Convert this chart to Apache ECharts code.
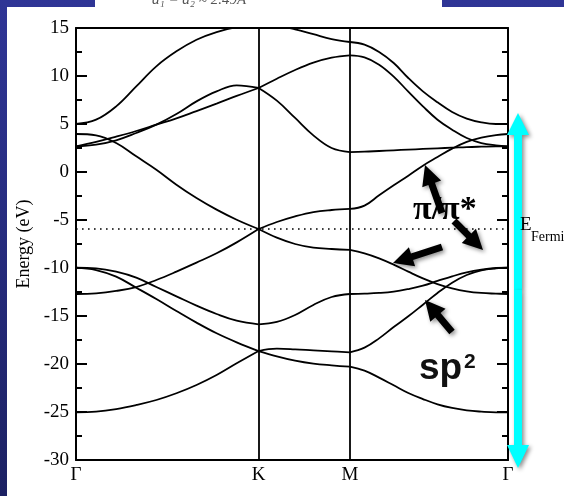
<!DOCTYPE html>
<html>
<head>
<meta charset="utf-8">
<script src="https://cdn.jsdelivr.net/npm/echarts@6/dist/echarts.min.js"></script>
<style>
  body { margin: 0; }
  #wrap { position: relative; width: 564px; height: 496px; background: linear-gradient(#2f3596, #1c2163); overflow: hidden; }
  .paper { position: absolute; background: #fff; }
</style>
</head>
<body>
<div id="wrap">
  <div class="paper" style="left:7px;top:7px;right:0;bottom:0"></div>
  <div class="paper" style="left:95px;top:0;width:347px;height:7px"></div>
  <div id="main" style="position:absolute;left:0;top:0;width:564px;height:496px"></div>
</div>
<script>
// k-path: Γ(0) -> K(2) -> M(3) -> Γ(2+√3)
var kPath = [0, 0.22, 0.44, 0.66, 0.88, 1.1, 1.32, 1.54, 1.76, 2.0,
    2.2, 2.4, 2.6, 2.8, 3.0,
    3.16, 3.32, 3.48, 3.64, 3.8, 3.96, 4.12, 4.28, 4.44, 4.6, 4.732];
var kTicks = [0, 2, 3, 4.732];
var kLabels = ['Γ', 'K', 'M', 'Γ'];
var eFermi = -5.94;

// energies (eV) on kPath
var bandA = [5.0, 5.45, 6.84, 8.92, 11.01, 12.57, 13.78, 14.58, 15.08, 15.4,
    15.25, 14.85, 14.35, 13.85, 13.54,
    13.26, 12.5, 11.35, 9.79, 8.4, 7.26, 6.25, 5.56, 5.17, 5.0, 5.0];
var bandB = [2.67, 3.13, 3.68, 4.27, 4.93, 5.59, 6.35, 7.12, 7.92, 8.75,
    9.72, 10.63, 11.39, 11.91, 12.15,
    11.94, 11.18, 9.93, 8.37, 6.84, 5.45, 4.41, 3.54, 3.02, 2.78, 2.67];
var bandC = [2.67, 2.85, 3.30, 4.06, 4.93, 6.04, 7.36, 8.40, 9.03, 8.75,
    7.43, 5.63, 3.82, 2.5, 2.08,
    2.12, 2.19, 2.26, 2.33, 2.40, 2.47, 2.53, 2.60, 2.64, 2.67, 2.67];
var piStar = [3.96, 3.82, 3.02, 1.63, 0.24, -1.32, -2.71, -3.92, -4.97, -5.94,
    -5.21, -4.62, -4.17, -3.96, -3.85,
    -3.5, -2.43, -1.39, -0.38, 0.66, 1.56, 2.43, 3.13, 3.58, 3.85, 3.96];
var pi = [-12.71, -12.64, -12.39, -11.98, -11.25, -10.38, -9.44, -8.47, -7.33, -5.94,
    -6.84, -7.5, -7.88, -8.02, -8.12,
    -8.47, -8.99, -9.65, -10.38, -11.08, -11.67, -12.12, -12.43, -12.6, -12.67, -12.71];
var sigma1 = [-9.96, -10.03, -10.38, -11.0, -11.98, -12.95, -13.92, -14.79, -15.49, -15.87,
    -15.62, -14.9, -13.85, -13.02, -12.71,
    -12.67, -12.6, -12.46, -12.19, -11.84, -11.35, -10.87, -10.45, -10.17, -10.0, -9.96];
var sigma2 = [-9.96, -10.21, -10.9, -12.05, -13.23, -14.48, -15.69, -16.8, -17.74, -18.65,
    -18.4, -18.47, -18.58, -18.68, -18.78,
    -18.3, -17.33, -16.15, -15.03, -13.82, -12.6, -11.53, -10.73, -10.24, -10.03, -9.96];
var sigma3 = [-25.03, -24.96, -24.69, -24.27, -23.75, -23.05, -22.19, -21.15, -19.93, -18.65,
    -19.2, -19.65, -19.96, -20.14, -20.28,
    -20.69, -21.42, -22.22, -23.02, -23.65, -24.2, -24.58, -24.83, -24.96, -25.03, -25.03];

var bandList = [bandA, bandB, bandC, piStar, pi, sigma1, sigma2, sigma3];
var segs = [[0, 9], [9, 14], [14, 25]];

var serif = 'Liberation Serif';
var chart = echarts.init(document.getElementById('main'));

var series = [];
bandList.forEach(function (b) {
    segs.forEach(function (s) {
        var pts = [];
        for (var n = s[0]; n <= s[1]; n++) pts.push([kPath[n], b[n]]);
        series.push({
            type: 'line', data: pts, smooth: 0.4, symbol: 'none', silent: true,
            lineStyle: { color: '#000', width: 1.8 }
        });
    });
});
series[0].markLine = {
    silent: true, symbol: 'none', label: { show: false },
    data: [
        { xAxis: kTicks[1], lineStyle: { color: '#000', width: 1.8, type: 'solid' } },
        { xAxis: kTicks[2], lineStyle: { color: '#000', width: 1.8, type: 'solid' } },
        { yAxis: eFermi, lineStyle: { color: '#000', width: 1.6, type: [1.6, 4.4] } }
    ]
};

// block arrow polygon
function arrow(x1, y1, x2, y2, w, hw, hl, color) {
    var dx = x2 - x1, dy = y2 - y1, L = Math.sqrt(dx * dx + dy * dy);
    var ux = dx / L, uy = dy / L, nx = -uy, ny = ux;
    var bx = x2 - ux * hl, by = y2 - uy * hl;
    return {
        type: 'polygon', z: 50,
        shape: { points: [
            [x1 + nx * w / 2, y1 + ny * w / 2], [bx + nx * w / 2, by + ny * w / 2],
            [bx + nx * hw / 2, by + ny * hw / 2], [x2, y2],
            [bx - nx * hw / 2, by - ny * hw / 2], [bx - nx * w / 2, by - ny * w / 2],
            [x1 - nx * w / 2, y1 - ny * w / 2]
        ] },
        style: { fill: color, shadowBlur: 4, shadowOffsetX: 2, shadowOffsetY: 2, shadowColor: 'rgba(0,0,0,0.45)' }
    };
}

var graphics = [
    arrow(518, 290, 518, 113, 8, 22, 22, '#00ffff'),
    arrow(518, 290, 518, 468, 8, 22, 23, '#00ffff'),
    arrow(442, 213, 425, 165, 7, 20, 20, '#000'),
    arrow(454, 221, 483, 250, 7, 20, 20, '#000'),
    arrow(442, 247, 393, 263, 7, 20, 20, '#000'),
    arrow(452, 332, 425, 300, 7, 20, 20, '#000'),
    { type: 'text', z: 60, left: 413, top: 193,
      style: { text: 'π/π*', font: 'bold 34px ' + serif, fill: '#000' } },
    { type: 'text', z: 60, left: 419, top: 350,
      style: { text: 'sp', font: 'bold 37px "Liberation Sans"', fill: '#111',
          shadowBlur: 3, shadowOffsetX: 1, shadowOffsetY: 1, shadowColor: 'rgba(0,0,0,0.3)' } },
    { type: 'text', z: 60, left: 464, top: 352,
      style: { text: '2', font: 'bold 21px "Liberation Sans"', fill: '#111',
          shadowBlur: 3, shadowOffsetX: 1, shadowOffsetY: 1, shadowColor: 'rgba(0,0,0,0.3)' } },
    { type: 'text', z: 60, left: 520, top: 216,
      style: { text: 'E', font: '19px ' + serif, fill: '#000' } },
    { type: 'text', z: 60, left: 531, top: 230,
      style: { text: 'Fermi', font: '14px ' + serif, fill: '#000' } },
    { type: 'text', z: 60, left: 152, top: -7,
      style: { text: 'a₁ = a₂ ≈ 2.49Å', font: 'italic 15px ' + serif, fill: '#555' } }
];

chart.setOption({
    animation: false,
    grid: { left: 76, right: 56, top: 28, bottom: 36 },
    xAxis: [{
        type: 'value', min: 0, max: kTicks[3],
        axisLine: { onZero: false, lineStyle: { color: '#000', width: 2 } },
        axisTick: { show: false },
        splitLine: { show: false },
        axisLabel: {
            customValues: kTicks, margin: 6, color: '#000', fontFamily: serif, fontSize: 19,
            formatter: function (v) { return kLabels[kTicks.indexOf(v)]; }
        }
    }, {
        type: 'value', position: 'top', min: 0, max: kTicks[3],
        axisLine: { show: true, onZero: false, lineStyle: { color: '#000', width: 2 } },
        axisTick: { show: false }, axisLabel: { show: false }, splitLine: { show: false }
    }],
    yAxis: [{
        type: 'value', min: -30, max: 15, interval: 5,
        name: 'Energy (eV)', nameLocation: 'middle', nameGap: 43,
        nameTextStyle: { color: '#000', fontFamily: serif, fontSize: 18 },
        axisLine: { show: true, onZero: false, lineStyle: { color: '#000', width: 2 } },
        axisTick: { inside: true, length: 11, lineStyle: { color: '#000', width: 2 } },
        minorTick: { show: true, splitNumber: 2, length: 6, lineStyle: { color: '#000', width: 2 } },
        splitLine: { show: false },
        axisLabel: { color: '#000', fontFamily: serif, fontSize: 19, margin: 7 }
    }, {
        type: 'value', position: 'right', min: -30, max: 15, interval: 5,
        axisLine: { show: true, onZero: false, lineStyle: { color: '#000', width: 2 } },
        axisTick: { inside: true, length: 11, lineStyle: { color: '#000', width: 2 } },
        minorTick: { show: true, splitNumber: 2, length: 6, lineStyle: { color: '#000', width: 2 } },
        splitLine: { show: false }, axisLabel: { show: false }
    }],
    series: series,
    graphic: graphics
});
</script>
</body>
</html>
